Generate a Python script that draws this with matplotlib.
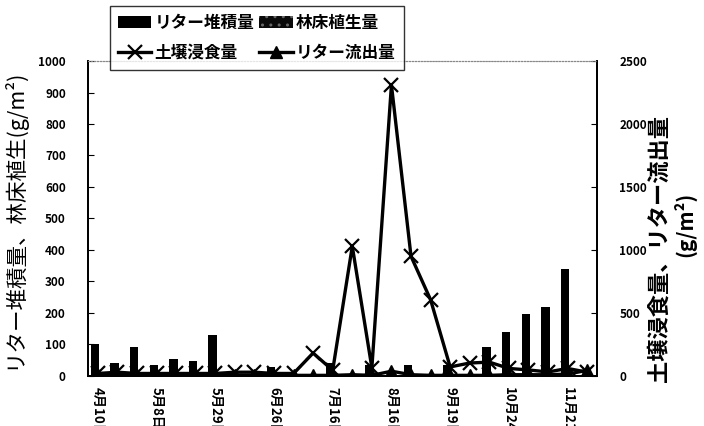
import numpy as np
import matplotlib
matplotlib.use('Agg')
import matplotlib.pyplot as plt

plt.rcParams['font.family'] = ['Noto Sans CJK JP', 'DejaVu Sans']
plt.rcParams['font.weight'] = 'bold'

# 26 sampling dates, labels shown every 3rd date
tick_pos = [0, 3, 6, 9, 12, 15, 18, 21, 24]
tick_labels = ['4月10日', '5月8日', '5月29日', '6月26日', '7月16日',
               '8月16日', '9月19日', '10月24日', '11月21日']

# left axis (g/m2)
litter_stock = [100, 42, 93, 35, 54, 48, 130, 0, 0, 29, 0, 0, 41, 0, 35, 0,
                35, 0, 35, 0, 93, 139, 196, 219, 340, 0]
floor_veg = [0] * 26

# right axis (g/m2)
erosion = [20, 30, 20, 20, 20, 20, 20, 30, 30, 20, 20, 182, 45, 1030, 65, 2310,
           950, 605, 72, 103, 110, 60, 48, 32, 60, 30]
litter_out = [5, 5, 5, 5, 5, 5, 5, 5, 5, 5, 5, 5, 5, 10, 5, 38,
              10, 5, 5, 5, 5, 10, 10, 10, 15, 45]

x = np.arange(len(litter_stock))

fig = plt.figure(figsize=(7.04, 4.26), dpi=100)
ax = fig.add_axes([0.125, 0.1174, 0.723, 0.7394])
ax2 = ax.twinx()

b1 = ax.bar(x - 0.14, litter_stock, width=0.43, color='black', linewidth=0)
b2 = ax.bar(x + 0.2, floor_veg, width=0.43, color='#0a0a0a',
            edgecolor='#666666', hatch='..', linewidth=0)

l1, = ax2.plot(x, erosion, color='black', linewidth=2.4, marker='x',
               markersize=10, markeredgewidth=1.6, label='土壌浸食量')
l2, = ax2.plot(x, litter_out, color='black', linewidth=2.4, marker='^',
               markersize=8, label='リター流出量')

ax.set_xlim(-0.5, len(x) - 0.5)
ax.set_ylim(0, 1000)
ax2.set_ylim(0, 2500)
ax.set_yticks(np.arange(0, 1001, 100))
ax2.set_yticks(np.arange(0, 2501, 500))
ax.set_xticks(tick_pos)
ax.set_xticklabels(tick_labels, rotation=-90, fontsize=9.5, va='top')
ax.tick_params(axis='x', length=0, pad=8)
ax.tick_params(axis='y', direction='in', length=4, pad=16, labelsize=8.5)
ax2.tick_params(axis='y', direction='in', length=4, pad=16, labelsize=8.5)

for a in (ax, ax2):
    a.spines['top'].set_linestyle(':')
    a.spines['top'].set_color('#888888')
    a.spines['top'].set_linewidth(0.8)
    for s in ('left', 'right', 'bottom'):
        a.spines[s].set_linewidth(1.3)

ax.set_ylabel('リター堆積量、林床植生(g/m²)', fontsize=15.5, labelpad=9)

# right axis title: two lines, placed like the original
fig.text(659 / 704, 1 - 248 / 426, '土壌浸食量、リター流出量', fontsize=16,
         rotation=90, ha='center', va='center')
fig.text(685 / 704, 1 - 224 / 426, '(g/m²)', fontsize=15,
         rotation=90, ha='center', va='center')

leg = fig.legend([b1, l1, b2, l2],
                 ['リター堆積量', '土壌浸食量', '林床植生量', 'リター流出量'],
                 ncol=2, loc='center', bbox_to_anchor=(0.365, 0.911),
                 fontsize=12, frameon=True, fancybox=False,
                 handlelength=2.0, columnspacing=0.3, handletextpad=0.2,
                 borderpad=0.5, labelspacing=0.72)
leg.get_frame().set_edgecolor('black')
leg.get_frame().set_linewidth(1.0)

fig.savefig('out.png', dpi=100)
